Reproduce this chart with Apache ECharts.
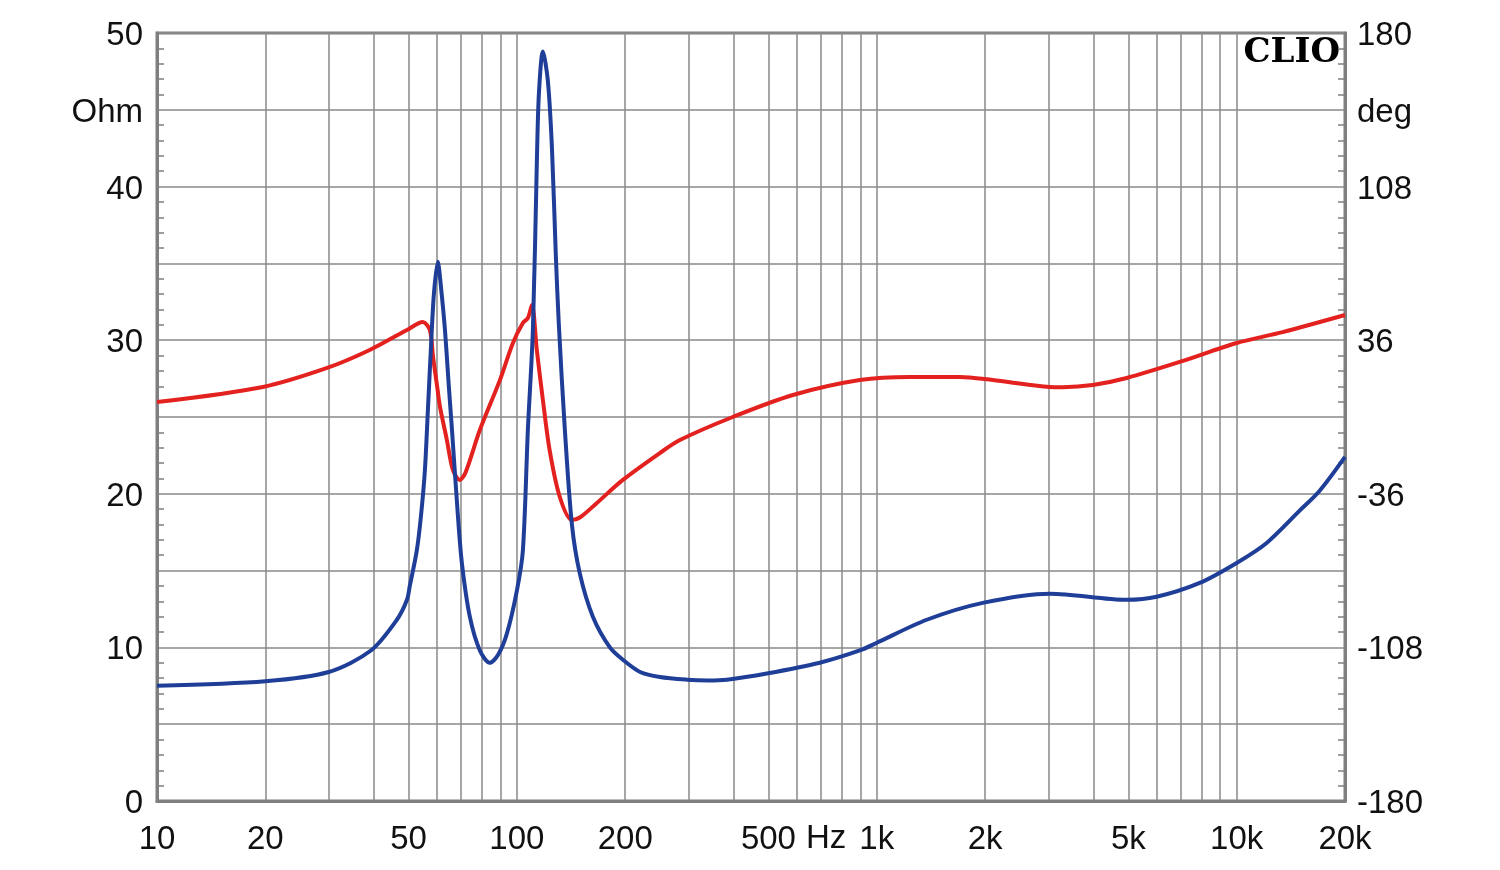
<!DOCTYPE html>
<html>
<head>
<meta charset="utf-8">
<style>
  html, body { margin: 0; padding: 0; background: #fff; }
  #chart { width: 1500px; height: 870px; }
</style>
<script src="https://cdn.jsdelivr.net/npm/echarts@6/dist/echarts.min.js"></script>
</head>
<body>
<div id="chart"></div>
<script>
// impedance magnitude (Ohm, left axis)
var impFreq = [10, 20, 30, 39.3, 46.4, 49.5, 50.4, 52.7, 54.1, 55.5, 56.6, 57.7, 58.8, 60.3, 61.5, 63.1, 64.7, 66.0, 68.6, 70.4, 74.0, 78.9, 84.1, 88.6, 93.8, 100, 103.9, 107.3, 110.8, 113.6, 115.1, 118.1, 121.9, 125.1, 128.3, 130.8, 135.9, 142.2, 149.6, 162.6, 181.3, 197, 220, 249.6, 296.7, 340, 383.1, 494.9, 694.5, 897, 1000, 1377, 1970, 3025, 4949, 5995, 7894, 10000, 12115, 14962, 17010, 20000];
var impOhm = [7.5, 7.8, 8.4, 9.8, 11.8, 13.1, 14.0, 16.3, 18.5, 21.5, 25.5, 29.5, 33, 35.1, 33.5, 30.7, 27, 24.2, 18.5, 15.4, 12.0, 9.8, 9.0, 9.5, 10.9, 13.7, 16.3, 24.2, 30.7, 41.5, 46, 48.8, 46.9, 42.6, 35.5, 31, 24.2, 18.0, 14.8, 12.0, 10.0, 9.2, 8.4, 8.07, 7.9, 7.85, 7.9, 8.3, 9.0, 9.8, 10.3, 11.8, 12.9, 13.5, 13.1, 13.3, 14.2, 15.5, 16.8, 18.9, 20.2, 22.4];

// phase (deg, right axis)
var phaseFreq = [10, 19.7, 29.7, 39.0, 49.5, 54.8, 57.3, 58.5, 60.3, 61.1, 63.9, 66.4, 69.4, 72, 78.9, 89.7, 97.5, 103.9, 107.3, 110.1, 113.6, 118.1, 123.3, 131.6, 142.2, 150, 166.8, 197, 249.6, 283.7, 398, 584.8, 897, 1235, 1701, 2100, 3025, 3286, 3981, 4949, 6946, 10000, 13420, 20000];
var phaseDeg = [7.0, 14.1, 23.0, 31.4, 40.8, 44.5, 40.8, 28, 12, 5, -10.8, -24.8, -29.5, -26, -6.1, 17.3, 34.7, 44.1, 46.4, 52.5, 31.4, 8.0, -15.5, -37.5, -48.3, -47, -40.3, -29.5, -16.9, -10.8, 0, 10.3, 17.3, 18.8, 18.8, 17.3, 14.1, 14.0, 15.0, 18.3, 25.8, 34.7, 39.8, 47.8];

var gridFreqs = [10, 20, 30, 40, 50, 60, 70, 80, 90, 100, 200, 300, 400, 500, 600, 700, 800, 900, 1000, 2000, 3000, 4000, 5000, 6000, 7000, 8000, 9000, 10000, 20000];
var labelFreqs = [10, 20, 50, 100, 200, 500, 1000, 2000, 5000, 10000, 20000];
var labelText = ['10', '20', '50', '100', '200', '500', '1k', '2k', '5k', '10k', '20k'];

var gridColor = '#8a8a8a';
var frameColor = '#7f7f7f';
var ink = '#111';
var font = 'Liberation Sans, Arial, sans-serif';

function pairs(xs, ys) {
  return xs.map(function(x, i) { return [x, ys[i]]; });
}

var yRich = { t: { color: ink, fontFamily: font, fontSize: 33, padding: [6, 0, 0, 0] } };

var chart = echarts.init(document.getElementById('chart'), null, { renderer: 'canvas' });
chart.setOption({
  animation: false,
  backgroundColor: '#fff',
  grid: {
    left: 157, right: 155, top: 33, bottom: 69,
    show: true, borderColor: frameColor, borderWidth: 3, backgroundColor: '#fff'
  },
  xAxis: {
    type: 'log',
    logBase: 10,
    min: 10,
    max: 20000,
    axisLine: { show: true, lineStyle: { color: frameColor, width: 3 } },
    axisTick: { show: false, customValues: gridFreqs },
    splitLine: { show: true, lineStyle: { color: gridColor, width: 1.5 } },
    axisLabel: {
      customValues: labelFreqs,
      color: ink, fontFamily: font, fontSize: 33, margin: 22,
      formatter: function(v) {
        var i = labelFreqs.indexOf(Math.round(v));
        return i >= 0 ? labelText[i] : '';
      }
    }
  },
  yAxis: [
    {
      type: 'value',
      min: 0, max: 50, interval: 5,
      axisLine: { show: true, lineStyle: { color: frameColor, width: 3 } },
      axisTick: { show: false, inside: true },
      minorTick: { show: true, splitNumber: 5, length: 7, lineStyle: { color: frameColor, width: 1.5 } },
      splitLine: { show: true, lineStyle: { color: gridColor, width: 1.5 } },
      axisLabel: {
        margin: 14, rich: yRich,
        formatter: function(v) {
          if (v === 45) return '{t|Ohm}';
          return v % 10 === 0 ? '{t|' + v + '}' : '';
        }
      }
    },
    {
      type: 'value',
      min: -180, max: 180, interval: 36,
      position: 'right',
      axisLine: { show: true, lineStyle: { color: frameColor, width: 3 } },
      axisTick: { show: false, inside: true },
      minorTick: { show: true, splitNumber: 5, length: 7, lineStyle: { color: frameColor, width: 1.5 } },
      splitLine: { show: false },
      axisLabel: {
        margin: 12, rich: yRich,
        formatter: function(v) {
          if (v === 144) return '{t|deg}';
          return (v + 180) % 72 === 0 ? '{t|' + v + '}' : '';
        }
      }
    }
  ],
  graphic: [
    {
      type: 'text', left: 806, top: 822,
      style: { text: 'Hz', fill: ink, font: '33px ' + font }
    },
    {
      type: 'text', right: 160, top: 36,
      style: { text: 'CLIO', fill: '#000', font: 'bold 34px "DejaVu Serif", serif' }
    }
  ],
  series: [
    {
      name: 'phase',
      type: 'line',
      yAxisIndex: 1,
      data: pairs(phaseFreq, phaseDeg),
      showSymbol: false,
      smooth: 0.3,
      lineStyle: { color: '#e3211f', width: 4 },
      z: 3
    },
    {
      name: 'impedance',
      type: 'line',
      yAxisIndex: 0,
      data: pairs(impFreq, impOhm),
      showSymbol: false,
      smooth: 0.3,
      lineStyle: { color: '#1f3e98', width: 4 },
      z: 4
    }
  ]
});
</script>
</body>
</html>
